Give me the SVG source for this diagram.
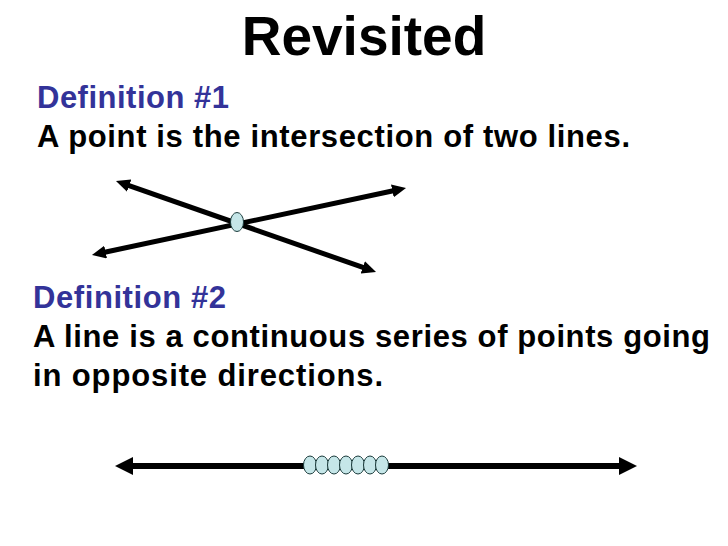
<svg xmlns="http://www.w3.org/2000/svg" width="728" height="546" viewBox="0 0 728 546">
<style>
.t{font-family:"Liberation Sans",Arial,sans-serif;font-weight:bold}
.h{fill:#333399;font-size:31px}
.b{fill:#000;font-size:31px}
.ln{stroke:#000;stroke-width:5;fill:none}
.ln2{stroke:#000;stroke-width:6;fill:none}
.pt{fill:#c5e6e8;stroke:#1a3a3a;stroke-width:1}
</style>
<defs>
<marker id="ah" viewBox="0 0 14 13" refX="7" refY="6.5" markerWidth="14" markerHeight="13" orient="auto-start-reverse" markerUnits="userSpaceOnUse">
<path d="M0,0 L14,6.5 L0,13 Z" fill="#000"/>
</marker>
<marker id="ah2" viewBox="0 0 18 18" refX="10" refY="9" markerWidth="18" markerHeight="18" orient="auto-start-reverse" markerUnits="userSpaceOnUse">
<path d="M0,0 L18,9 L0,18 Z" fill="#000"/>
</marker>
</defs>
<rect width="728" height="546" fill="#fff"/>
<text class="t" x="364" y="55" font-size="55" text-anchor="middle">Revisited</text>
<text class="t h" x="37" y="108" textLength="192" lengthAdjust="spacing">Definition #1</text>
<text class="t b" x="37" y="147" textLength="593" lengthAdjust="spacing">A point is the intersection of two lines.</text>
<text class="t h" x="33" y="308" textLength="193" lengthAdjust="spacing">Definition #2</text>
<text class="t b" x="33" y="347" textLength="677" lengthAdjust="spacing">A line is a continuous series of points going</text>
<text class="t b" x="33" y="386" textLength="350" lengthAdjust="spacing">in opposite directions.</text>
<g id="connectors">
<line class="ln" x1="122.6" y1="183.3" x2="369.4" y2="269.7" marker-start="url(#ah)" marker-end="url(#ah)"/>
<line class="ln" x1="98.8" y1="253.5" x2="399.2" y2="189.5" marker-start="url(#ah)" marker-end="url(#ah)"/>
<line class="ln2" x1="123" y1="466" x2="629" y2="466" marker-start="url(#ah2)" marker-end="url(#ah2)"/>
</g>
<g id="intersection-point">
<ellipse class="pt" cx="237" cy="222" rx="6.5" ry="9.5"/>
</g>
<g id="line-points">
<ellipse class="pt" cx="310" cy="465" rx="6.5" ry="9"/>
<ellipse class="pt" cx="322" cy="465" rx="6.5" ry="9"/>
<ellipse class="pt" cx="334" cy="465" rx="6.5" ry="9"/>
<ellipse class="pt" cx="346" cy="465" rx="6.5" ry="9"/>
<ellipse class="pt" cx="358" cy="465" rx="6.5" ry="9"/>
<ellipse class="pt" cx="370" cy="465" rx="6.5" ry="9"/>
<ellipse class="pt" cx="382" cy="465" rx="6.5" ry="9"/>
</g>
</svg>
